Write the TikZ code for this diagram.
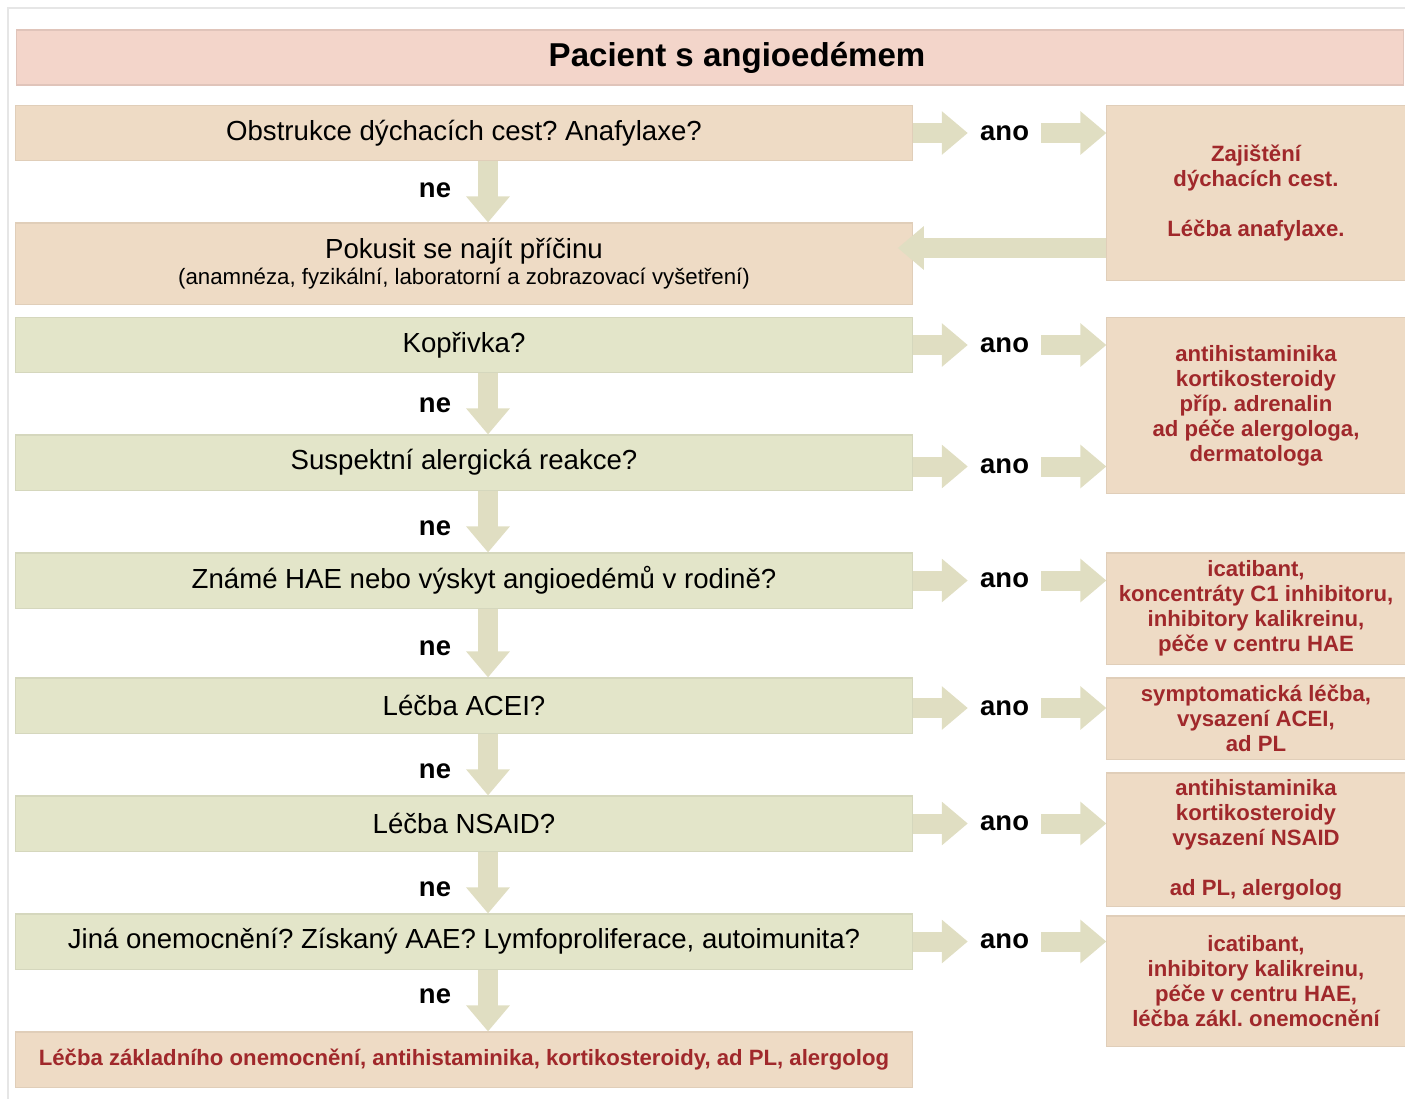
\documentclass[tikz,border=0pt]{standalone}
\usepackage{fontspec}
\setmainfont{Liberation Sans}
\usepackage{xcolor}
\usetikzlibrary{positioning,arrows.meta,calc}
\definecolor{titlefill}{HTML}{F3D5CA}
\definecolor{tanfill}{HTML}{EEDBC5}
\definecolor{greenfill}{HTML}{E3E5C9}
\definecolor{arrowfill}{HTML}{E0DEC2}
\definecolor{advice}{HTML}{A0282B}
\definecolor{edgegray}{HTML}{E6E6E6}
\newcommand{\qfont}{\fontsize{7.85}{8.2}\selectfont}
\newcommand{\subfont}{\fontsize{6.33}{7}\selectfont}
\newcommand{\advfont}{\bfseries\fontsize{6.3}{7.1}\selectfont}
\frenchspacing

\begin{document}
\begin{tikzpicture}[
  x=0.01cm, y=-0.01cm,
  node distance=0.55cm,
  head/.style={rectangle, draw=titlefill!92!black, line width=0.3pt, fill=titlefill, minimum width=13.87cm, minimum height=0.55cm, font=\bfseries\fontsize{9.4}{11}\selectfont},
  query/.style={rectangle, draw=greenfill!94!black, line width=0.3pt, fill=greenfill, minimum width=8.96cm, minimum height=0.55cm, inner sep=0pt, align=center, font=\qfont},
  tan/.style={draw=tanfill!94!black, fill=tanfill},
  therapy/.style={rectangle, tan, line width=0.3pt, minimum width=2.98cm, inner sep=0pt, align=center, text=advice, font=\advfont},
  yes/.style={font=\bfseries\fontsize{7.8}{9}\selectfont},
  arr/.style={draw=arrowfill, line width=0.2cm, -{Triangle[width=0.42cm,length=0.26cm]}}]
\useasboundingbox (0,0) rectangle (1405,1099);
\draw[edgegray, line width=0.8pt] (1405,8) -| (8,1099);
\node[head] (title) at (710,57.5) {\hspace*{0.54cm}Pacient s angioedémem};
% left column
\node[query, tan] (q1) at (464,133) {Obstrukce dýchacích cest? Anafylaxe?};
\node[query, tan, minimum height=0.81cm] (q2) at (464,263.5) {Pokusit se najít příčinu\\[-0.8pt]{\subfont (anamnéza, fyzikální, laboratorní a zobrazovací vyšetření)}};
\node[query] (q3) at (464,345) {Kopřivka?};
\node[query] (q4) at (464,462.5) {Suspektní alergická reakce?};
\node[query] (q5) at (464,580.5) {\hspace*{0.4cm}Známé HAE nebo výskyt angioedémů v rodině?};
\node[query] (q6) at (464,705.5) {Léčba ACEI?};
\node[query] (q7) at (464,823.5) {Léčba NSAID?};
\node[query] (q8) at (464,941.5) {Jiná onemocnění? Získaný AAE? Lymfoproliferace, autoimunita?};
\node[query, tan, text=advice, font=\advfont] (q9) at (464,1059.5) {Léčba základního onemocnění, antihistaminika, kortikosteroidy, ad PL, alergolog};
% right column
\node[therapy, minimum height=1.74cm] (r1) at (1256,193) {Zajištění\\dýchacích cest.\\[7.1pt]Léčba anafylaxe.};
\node[therapy, minimum height=1.75cm] (r2) at (1256,405.5) {antihistaminika\\kortikosteroidy\\příp. adrenalin\\ad péče alergologa,\\dermatologa};
\node[therapy, minimum height=1.11cm] (r3) at (1256,608.5) {icatibant,\\koncentráty C1 inhibitoru,\\inhibitory kalikreinu,\\péče v centru HAE};
\node[therapy, minimum height=0.81cm] (r4) at (1256,718.5) {symptomatická léčba,\\vysazení ACEI,\\ad PL};
\node[therapy, minimum height=1.33cm] (r5) at (1256,839.5) {antihistaminika\\kortikosteroidy\\vysazení NSAID\\[7.1pt]ad PL, alergolog};
\node[therapy, minimum height=1.30cm] (r6) at (1256,981) {icatibant,\\inhibitory kalikreinu,\\péče v centru HAE,\\léčba zákl. onemocnění};
% ano / ne
\node[yes, right=of q1] (a1) {ano};
\node[yes, right=of q3] (a2) {ano};
\node[yes, right=of q4, yshift=-0.04cm] (a3) {ano};
\node[yes, right=of q5] (a4) {ano};
\node[yes, right=of q6, yshift=-0.025cm] (a5) {ano};
\node[yes, right=of q7] (a6) {ano};
\node[yes, right=of q8] (a7) {ano};
\node[yes] (n1) at (435,190) {ne};
\node[yes] (n2) at (435,405) {ne};
\node[yes] (n3) at (435,528) {ne};
\node[yes] (n4) at (435,648) {ne};
\node[yes] (n5) at (435,771) {ne};
\node[yes] (n6) at (435,889) {ne};
\node[yes] (n7) at (435,996) {ne};
% arrows
\foreach \a/\b in {q1/q2,q3/q4,q4/q5,q5/q6,q6/q7,q7/q8,q8/q9}
  \draw[arr] ([xshift=0.24cm]\a.south) -- ([xshift=0.24cm]\b.north);
\foreach \q/\a/\r in {q1/a1/r1,q3/a2/r2,q4/a3/r2,q5/a4/r3,q6/a5/r4,q7/a6/r5,q8/a7/r6} {
  \draw[arr] (\q.east |- \a) -- (\a.west);
  \draw[arr] (\a.east) -- (\a -| \r.west);
}
\draw[arr] ([yshift=0.155cm]q2.east -| r1.west) -- ([xshift=-0.15cm, yshift=0.155cm]q2.east);
\end{tikzpicture}
\end{document}
